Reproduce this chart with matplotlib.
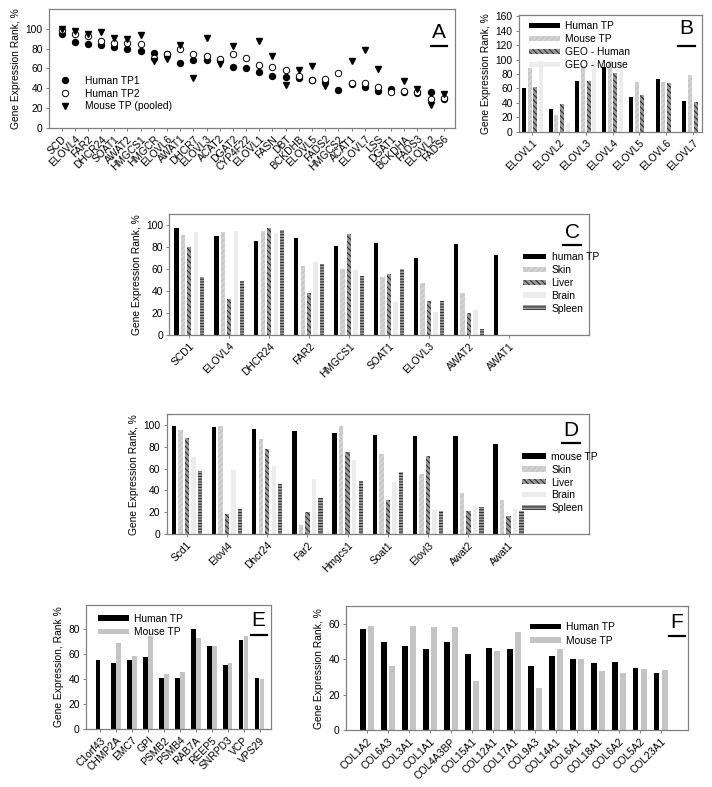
import numpy as np
import matplotlib
matplotlib.use("Agg")
import matplotlib.pyplot as plt
from matplotlib.lines import Line2D

plt.rcParams['font.family'] = ['Liberation Sans', 'DejaVu Sans']
plt.rcParams['hatch.linewidth'] = 0.8

nan = np.nan
# ---------------- Panel A ----------------
genes_a = ["SCD", "ELOVL4", "FAR2", "DHCR24", "SOAT1", "AWAT2", "HMGCS1", "HMGCR", "ELOVL6",
           "AWAT1", "DHCR7", "ELOVL3", "ACAT2", "DGAT2", "CYP4F22", "ELOVL1", "FASN", "DBT",
           "BCKDHB", "ELOVL5", "FADS2", "HMGCS2", "ACAT1", "ELOVL7", "LSS", "DGAT1", "BCKDHA",
           "FADS3", "ELOVL2", "FADS6"]
human_tp1_a = [95, 86.5, 85, 84, 81.5, 79.5, 78, 76, 75, 66, 69, 69, 69, 61.5, 60, 56, 52, 51.4,
               49.9, 48, 46, 37.8, 44, 40.8, 37.3, 38.8, 36, 35.5, 35.7, 28.6]
human_tp2_a = [99, 94.6, 93, 87.5, 86, 86, 85, 71, 75, 80, 75, 72.5, 70, 75, 71, 64, 61.6, 58,
               52.6, 48.8, 49.2, 55.6, 45.8, 44.8, 41.4, 36, 37.1, 36.4, 28.6, 29.6]
mouse_tp_a = [100, 98, 95, 97, 91, 90, 94, 68, 70, 84, 50, 91, 65, 83, nan, 87.9, 72.4, 42.8,
              58, 63, 42.1, nan, 67.4, 79, 59.3, nan, 47.2, 38.8, 23, 34]

# ---------------- Panel B ----------------
genes_b = ["ELOVL1", "ELOVL2", "ELOVL3", "ELOVL4", "ELOVL5", "ELOVL6", "ELOVL7"]
human_tp_b = [60, 32, 70, 90, 48.5, 73, 42]
mouse_tp_b = [88, 23, 91, 98, 69, 69, 78.6]
geo_human_b = [62, 39, 70, 82, 51, 68, 40.7]
geo_mouse_b = [98, 11.5, 98, 98, nan, nan, nan]

# ---------------- Panel C ----------------
genes_c = ["SCD1", "ELOVL4", "DHCR24", "FAR2", "HMGCS1", "SOAT1", "ELOVL3", "AWAT2", "AWAT1"]
human_tp_c = [97.3, 90.6, 85.5, 88.5, 81.2, 84.2, 70.6, 82.7, 73]
skin_c = [91, 93.6, 94.8, 62.7, 60.6, 53, 47.6, 38.2, nan]
liver_c = [80.6, 32.7, 97.9, 38.5, 92.4, 56, 31.2, 20.3, nan]
brain_c = [94, 94.5, 93, 66.7, 58.8, 30, 21, 22.7, nan]
spleen_c = [53.3, 49, 96, 64.5, 53.6, 60, 30.6, 5.5, nan]

# ---------------- Panel D ----------------
genes_d = ["Scd1", "Elovl4", "Dhcr24", "Far2", "Hmgcs1", "Soat1", "Elovl3", "Awat2", "Awat1"]
mouse_tp_d = [99.4, 98, 96.7, 95, 93, 90.6, 90.3, 89.7, 83]
skin_d = [95.5, 98.8, 87, 8, 98.8, 73.6, 55.5, 38, 31]
liver_d = [88, 18, 78.5, 20.6, 75, 31, 72, 21.5, 16.7]
brain_d = [71, 58.5, 62.4, 50.6, 67.6, 48, 22, 26, 22.7]
spleen_d = [57.6, 22.7, 46, 33, 49, 57, 21.5, 25, 21.5]

# ---------------- Panel E ----------------
genes_e = ["C1orf43", "CHMP2A", "EMC7", "GPI", "PSMB2", "PSMB4", "RAB7A", "REEP5", "SNRPD3", "VCP", "VPS29"]
human_tp_e = [54.7, 53, 55, 57.3, 40.5, 40.8, 79.7, 66, 51, 71.2, 41]
mouse_tp_e = [nan, 68.3, 57.9, 74.4, 43.7, 45.3, 72.8, 65.9, 52.8, 73.9, 40]

# ---------------- Panel F ----------------
genes_f = ["COL1A2", "COL6A3", "COL3A1", "COL1A1", "COL4A3BP", "COL15A1", "COL12A1", "COL17A1",
           "COL9A3", "COL14A1", "COL6A1", "COL18A1", "COL6A2", "COL5A2", "COL23A1"]
human_tp_f = [57, 49.5, 47.3, 45.6, 49.9, 42.8, 46.4, 46, 36.4, 41.7, 40, 37.8, 38.7, 35, 32.5]
mouse_tp_f = [58.5, 36.4, 59, 58.1, 57.9, 28, 44.7, 55.1, 23.9, 45.8, 40, 33.6, 32.5, 34.4, 33.8]

W, H = 712, 787
fig = plt.figure(figsize=(W / 100, H / 100), dpi=100)

def add_ax(l, t, r, b):
    return fig.add_axes([l / W, 1 - b / H, (r - l) / W, (b - t) / H])

FS = 7.4
SPINE = '#808080'

def style(ax):
    for s in ax.spines.values():
        s.set_color(SPINE)
        s.set_linewidth(0.9)
    ax.tick_params(axis='both', labelsize=FS, length=2.5, width=0.7, color=SPINE, pad=2)

def letter(ax, txt, x, y, x0, x1, yl):
    fig.text(x / W, 1 - y / H, txt, fontsize=15, ha='center', va='center')
    fig.add_artist(Line2D([x0 / W, x1 / W], [1 - yl / H, 1 - yl / H], color='black', lw=1.6,
                          transform=fig.transFigure))

def xlabels(ax, labels, pos):
    ax.set_xticks(pos)
    ax.set_xticklabels(labels, rotation=45, ha='right', rotation_mode='anchor', fontsize=FS)

BLACK = dict(color='black')
SKIN = dict(facecolor='#c8c8c8', hatch='//////', edgecolor='#dadada', linewidth=0)
LIVER = dict(facecolor='#9a9a9a', hatch='\\\\\\\\\\\\', edgecolor='#303030', linewidth=0)
BRAIN = dict(facecolor='#ececec', linewidth=0)
SPLEEN = dict(facecolor='#a0a0a0', hatch='------', edgecolor='#303030', linewidth=0)

# ===== A =====
axA = add_ax(49, 9.3, 455, 127.7)
style(axA)
xa = np.arange(len(genes_a))
axA.plot(xa, human_tp1_a, 'o', color='black', ms=4.3, ls='none', label='Human TP1')
axA.plot(xa, human_tp2_a, 'o', mfc='white', mec='black', mew=0.7, ms=4.6, ls='none', label='Human TP2')
axA.plot(xa, mouse_tp_a, 'v', color='black', ms=4.6, ls='none', label='Mouse TP (pooled)')
axA.set_xlim(-0.95, 29.85)
axA.set_ylim(0, 120)
axA.set_yticks([0, 20, 40, 60, 80, 100])
xlabels(axA, genes_a, xa)
axA.set_ylabel('Gene Expression Rank, %', fontsize=FS, labelpad=3)
axA.legend(loc='upper left', bbox_to_anchor=(0.015, 0.48), frameon=False, fontsize=FS,
           handletextpad=1.4, labelspacing=0.25, borderpad=0.0, handlelength=1.0)
letter(axA, 'A', 439, 32, 431, 447, 45.5)

# ===== B =====
axB = add_ax(519, 15, 702, 131.7)
style(axB)
xb = np.arange(len(genes_b))
sp, wb = 0.213, 0.15
axB.bar(xb - 1.5 * sp, human_tp_b, wb, **BLACK, label='Human TP')
axB.bar(xb - 0.5 * sp, mouse_tp_b, wb, **SKIN, label='Mouse TP')
axB.bar(xb + 0.5 * sp, geo_human_b, wb, **LIVER, label='GEO - Human')
axB.bar(xb + 1.5 * sp, geo_mouse_b, wb, **BRAIN, label='GEO - Mouse')
axB.set_xlim(-0.5, 6.34)
axB.set_ylim(0, 162)
axB.set_yticks(range(0, 161, 20))
xlabels(axB, genes_b, xb)
axB.set_ylabel('Gene Expression Rank, %', fontsize=FS, labelpad=3)
axB.legend(loc='upper left', bbox_to_anchor=(0.02, 1.0), frameon=False, fontsize=FS,
           handlelength=3.0, handleheight=0.35, handletextpad=0.5, labelspacing=0.3, borderpad=0.1)
letter(axB, 'B', 686.7, 29, 678, 695, 45.5)

# ===== C / D =====
def tissue_panel(ax, genes, tp, skin, liver, brain, spleen, tplabel):
    style(ax)
    x = np.arange(len(genes))
    sp, w = 0.162, 0.11
    ax.bar(x - 2 * sp, tp, w, **BLACK, label=tplabel)
    ax.bar(x - sp, skin, w, **SKIN, label='Skin')
    ax.bar(x, liver, w, **LIVER, label='Liver')
    ax.bar(x + sp, brain, w, **BRAIN, label='Brain')
    ax.bar(x + 2 * sp, spleen, w, **SPLEEN, label='Spleen')
    ax.set_xlim(-0.5, 10.0)
    ax.set_ylim(0, 110)
    ax.set_yticks(range(0, 101, 20))
    xlabels(ax, genes, x)
    ax.set_ylabel('Gene Expression Rank, %', fontsize=FS, labelpad=3)
    ax.legend(loc='upper left', bbox_to_anchor=(0.83, 0.73), frameon=False, fontsize=FS,
              handlelength=2.3, handleheight=0.4, handletextpad=0.5, labelspacing=0.28, borderpad=0.0)

axC = add_ax(169.3, 214.3, 589, 335)
tissue_panel(axC, genes_c, human_tp_c, skin_c, liver_c, brain_c, spleen_c, 'human TP')
letter(axC, 'C', 572, 232, 563, 581, 245)

axD = add_ax(166.7, 414.3, 589, 534)
tissue_panel(axD, genes_d, mouse_tp_d, skin_d, liver_d, brain_d, spleen_d, 'mouse TP')
letter(axD, 'D', 571, 431, 562, 580, 443)

# ===== E =====
axE = add_ax(86, 605, 270.7, 729)
style(axE)
xe = np.arange(len(genes_e))
axE.bar(xe - 0.155, human_tp_e, 0.29, color='black', label='Human TP')
axE.bar(xe + 0.155, mouse_tp_e, 0.29, color='#c4c4c4', label='Mouse TP')
axE.set_xlim(-0.9, 10.7)
axE.set_ylim(0, 99)
axE.set_yticks(range(0, 81, 20))
xlabels(axE, genes_e, xe)
axE.set_ylabel('Gene Expression, Rank %', fontsize=FS, labelpad=3)
axE.legend(loc='upper left', bbox_to_anchor=(0.03, 0.98), frameon=False, fontsize=FS,
           handlelength=3.0, handleheight=0.4, handletextpad=0.5, labelspacing=0.35, borderpad=0.1)
letter(axE, 'E', 258.7, 621, 251, 267, 635)

# ===== F =====
axF = add_ax(346, 606, 688, 730.3)
style(axF)
xf = np.arange(len(genes_f))
axF.bar(xf - 0.2, human_tp_f, 0.28, color='black', label='Human TP')
axF.bar(xf + 0.2, mouse_tp_f, 0.28, color='#c4c4c4', label='Mouse TP')
axF.set_xlim(-1.0, 15.3)
axF.set_ylim(0, 70)
axF.set_yticks(range(0, 61, 20))
xlabels(axF, genes_f, xf)
axF.set_ylabel('Gene Expression Rank, %', fontsize=FS, labelpad=3)
axF.legend(loc='upper left', bbox_to_anchor=(0.52, 0.92), frameon=False, fontsize=FS,
           handlelength=3.0, handleheight=0.4, handletextpad=0.5, labelspacing=0.35, borderpad=0.1)
letter(axF, 'F', 677, 623, 669, 685, 636)

fig.savefig('out.png', dpi=100)
